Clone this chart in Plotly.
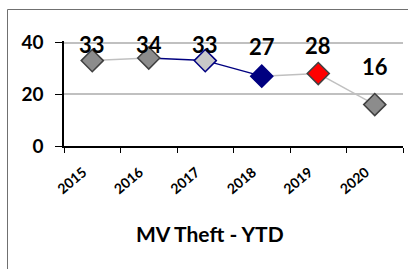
import plotly.graph_objects as go

years = ["2015", "2016", "2017", "2018", "2019", "2020"]
values = [33, 34, 33, 27, 28, 16]
y_ticks = [0, 20, 40]
title_text = "MV Theft - YTD"

# styles
marker_fill = ["#8c8c8c", "#8c8c8c", "#c8c8c8", "#000080", "#ff0000", "#8c8c8c"]
marker_line = ["#404040", "#404040", "#000080", "#000080", "#404040", "#404040"]
seg_colors = ["#c0c0c0", "#000080", "#000080", "#c0c0c0", "#c0c0c0"]
label_shift = [16, 14, 16, 30, 28, 38]
FONT = "Lato"

fig = go.Figure()
for i in range(len(years) - 1):
    fig.add_trace(go.Scatter(
        x=years[i:i + 2], y=values[i:i + 2], mode="lines",
        line=dict(color=seg_colors[i], width=1.5),
        hoverinfo="skip", showlegend=False, cliponaxis=False))
fig.add_trace(go.Scatter(
    x=years, y=values, mode="markers",
    marker=dict(symbol="diamond", size=17, color=marker_fill,
                line=dict(color=marker_line, width=1.5)),
    showlegend=False, cliponaxis=False))

for i, v in enumerate(values):
    fig.add_annotation(xref="x", yref="y", x=i, y=v, text="<b>%d</b>" % v,
                       showarrow=False, yshift=label_shift[i],
                       font=dict(family=FONT, size=22, color="black"))

W, H = 409, 269
L, R, T, B = 64, 6, 41, 123
pw = W - L - R
ph = H - T - B
ymax = 40 * ph / 103.5

fig.add_annotation(xref="paper", yref="paper", x=(210 - L) / pw, y=(146 - 233) / ph,
                   xanchor="center", yanchor="middle",
                   text="<b>%s</b>" % title_text, showarrow=False,
                   font=dict(family=FONT, size=21, color="black"))

# outer frame: only its left and top edges are inside the picture
fx0 = (7.5 - L) / pw
fy1 = (146 - 9.5) / ph
frame = dict(color="#707070", width=1)
fig.add_shape(type="line", xref="paper", yref="paper", x0=fx0, x1=fx0,
              y0=-(H + 10 - 146) / ph, y1=fy1, line=frame, layer="below")
fig.add_shape(type="line", xref="paper", yref="paper", x0=fx0, x1=(408 - L) / pw,
              y0=fy1, y1=fy1, line=frame, layer="below")

fig.update_layout(
    width=W, height=H, margin=dict(l=L, r=R, t=T, b=B),
    paper_bgcolor="white", plot_bgcolor="white",
    xaxis=dict(type="category", range=[-0.5, 5.5], tickson="boundaries",
               ticks="outside", ticklen=5, tickcolor="black",
               showline=True, linecolor="black", linewidth=1.5,
               showgrid=False, tickangle=-40,
               ticklabelstandoff=11, ticklabelshift=-9,
               tickfont=dict(family=FONT, size=14, color="black", weight="bold")),
    yaxis=dict(range=[0, ymax], tickvals=y_ticks, ticks="outside", ticklen=7,
               tickcolor="black", showline=True, linecolor="black", linewidth=1.5,
               showgrid=True, gridcolor="#c0c0c0", gridwidth=1.5, zeroline=False,
               ticklabelstandoff=8,
               tickfont=dict(family=FONT, size=19, color="black", weight="bold")),
)
fig.write_html("out.html", config={"displayModeBar": False})

# remove the browser's default page margin so the figure sits at (0, 0)
with open("out.html", encoding="utf-8") as f:
    html = f.read()
html = html.replace("<head>", "<head><style>html,body{margin:0;padding:0;overflow:hidden;}</style>", 1)
with open("out.html", "w", encoding="utf-8") as f:
    f.write(html)
